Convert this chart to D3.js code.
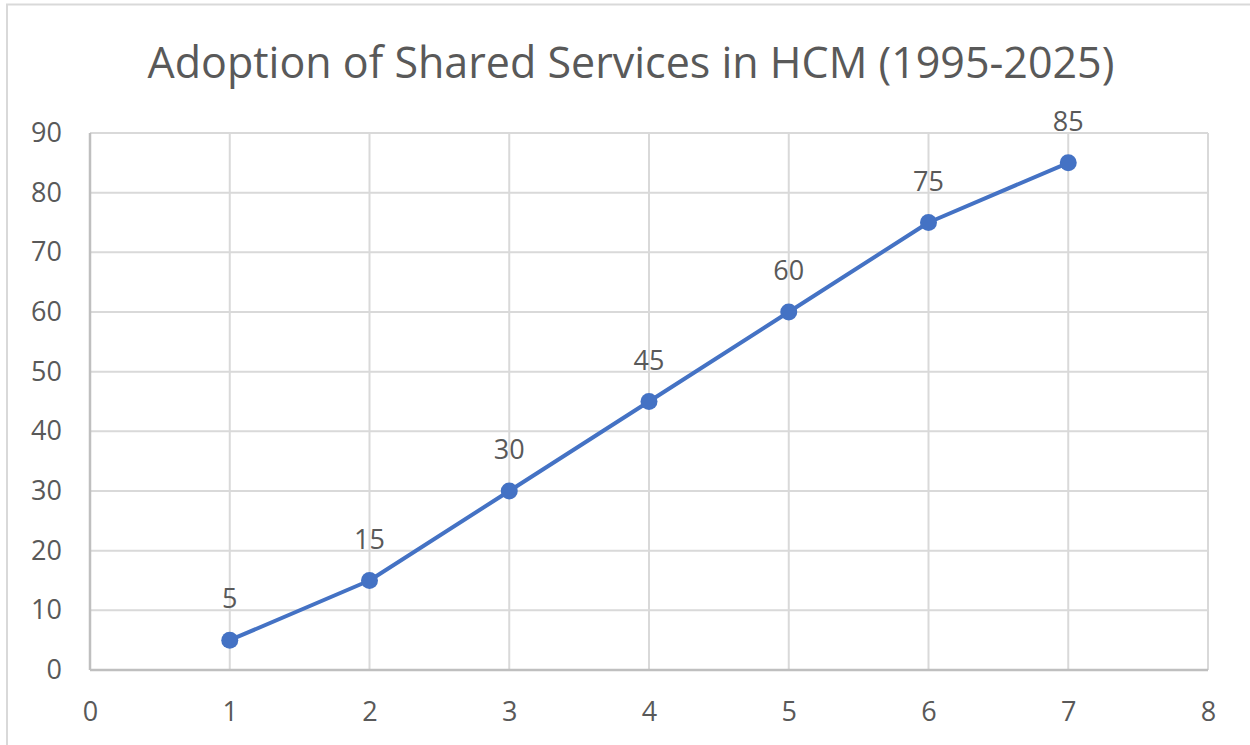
<!DOCTYPE html>
<html>
<head>
<meta charset="utf-8">
<script src="https://cdn.jsdelivr.net/npm/d3@7"></script>
<style>
  body { margin: 0; background: #fff; }
  text { font-family: "Open Sans", "Noto Sans", sans-serif; fill: #595959; }
</style>
</head>
<body>
<div id="container"></div>
<script>
const title = "Adoption of Shared Services in HCM (1995-2025)";
const xValues = [1, 2, 3, 4, 5, 6, 7];
const yValues = [5, 15, 30, 45, 60, 75, 85];
const xTicks = [0, 1, 2, 3, 4, 5, 6, 7, 8];
const yTicks = [0, 10, 20, 30, 40, 50, 60, 70, 80, 90];

const width = 1250, height = 745;
const margin = {left: 90, right: 42, top: 133, bottom: 75};

const svg = d3.select("#container").append("svg")
    .attr("width", width)
    .attr("height", height);

// chart border
svg.append("rect")
    .attr("x", 7).attr("y", 4.5)
    .attr("width", width + 10).attr("height", height + 10)
    .attr("fill", "none")
    .attr("stroke", "#d9d9d9")
    .attr("stroke-width", 2);

const x = d3.scaleLinear().domain([0, 8]).range([margin.left, width - margin.right]);
const y = d3.scaleLinear().domain([0, 90]).range([height - margin.bottom, margin.top]);

svg.append("text")
    .attr("x", 631).attr("y", 78)
    .attr("text-anchor", "middle")
    .attr("font-size", 43)
    .text(title);

// gridlines
const grid = svg.append("g").attr("stroke", "#d9d9d9").attr("stroke-width", 2);
grid.selectAll(".h").data(yTicks).enter().append("line")
    .attr("x1", x(0)).attr("x2", x(8))
    .attr("y1", d => y(d)).attr("y2", d => y(d));
grid.selectAll(".v").data(xTicks).enter().append("line")
    .attr("y1", y(0)).attr("y2", y(90))
    .attr("x1", d => x(d)).attr("x2", d => x(d));

// axis lines a bit darker
svg.append("line")
    .attr("x1", x(0)).attr("x2", x(8)).attr("y1", y(0)).attr("y2", y(0))
    .attr("stroke", "#bfbfbf").attr("stroke-width", 2.5);
svg.append("line")
    .attr("x1", x(0)).attr("x2", x(0)).attr("y1", y(0)).attr("y2", y(90))
    .attr("stroke", "#bfbfbf").attr("stroke-width", 2.5);

// tick labels through d3 axes
const yAxis = svg.append("g")
    .attr("transform", `translate(${x(0)},0)`)
    .call(d3.axisLeft(y).tickValues(yTicks).tickSize(0).tickPadding(28));
const xAxis = svg.append("g")
    .attr("transform", `translate(0,${y(0)})`)
    .call(d3.axisBottom(x).tickValues(xTicks).tickSize(0).tickPadding(32));
[yAxis, xAxis].forEach(a => {
    a.select(".domain").remove();
    a.attr("font-family", null).attr("font-size", null);
    a.selectAll("text").attr("font-size", 27).attr("fill", "#595959");
});

// series
const pts = xValues.map((v, i) => ({x: v, y: yValues[i]}));
const line = d3.line().x(d => x(d.x)).y(d => y(d.y));
svg.append("path")
    .datum(pts)
    .attr("d", line)
    .attr("fill", "none")
    .attr("stroke", "#4472c4")
    .attr("stroke-width", 4)
    .attr("stroke-linejoin", "round");

svg.selectAll(".dot").data(pts).enter().append("circle")
    .attr("cx", d => x(d.x)).attr("cy", d => y(d.y))
    .attr("r", 8.5)
    .attr("fill", "#4472c4");

svg.selectAll(".lbl").data(pts).enter().append("text")
    .attr("x", d => x(d.x)).attr("y", d => y(d.y) - 32)
    .attr("text-anchor", "middle")
    .attr("font-size", 27)
    .text(d => d.y);
</script>
</body>
</html>
